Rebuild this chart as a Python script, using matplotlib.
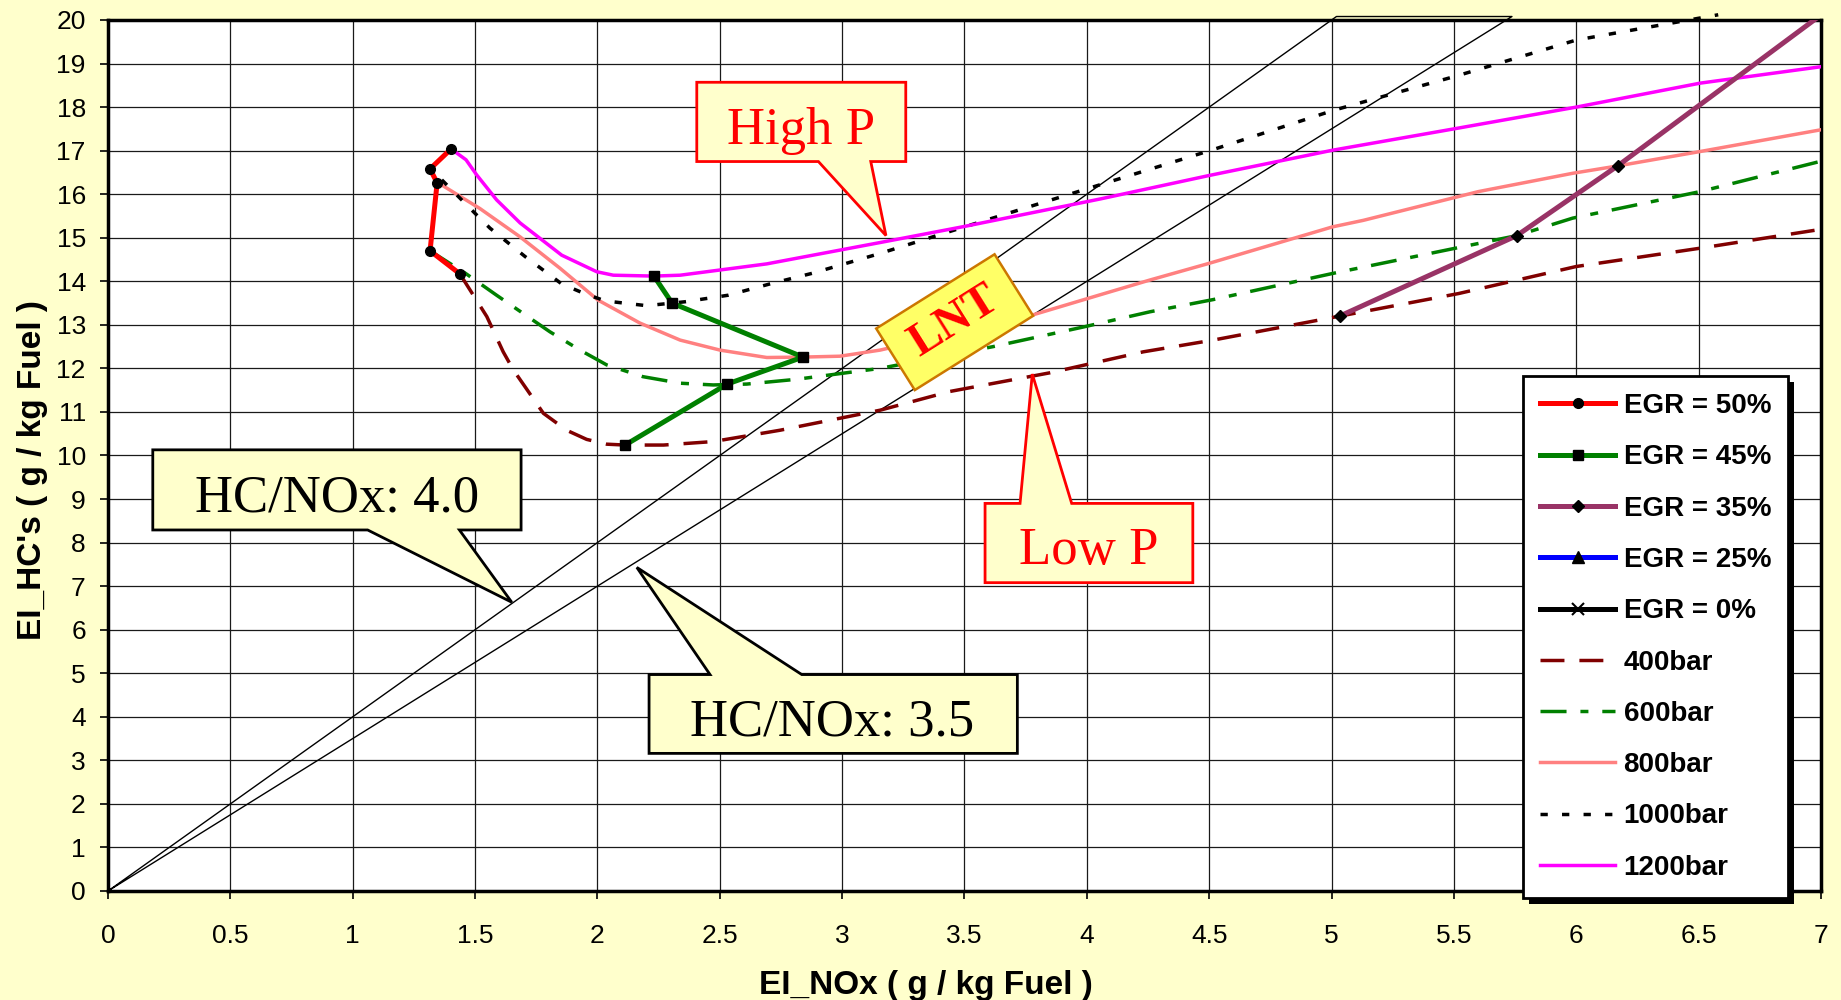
import numpy as np
import matplotlib
matplotlib.use('Agg')
import matplotlib.pyplot as plt
import matplotlib.transforms as mtransforms
from matplotlib.patches import Polygon, Rectangle

plt.rcParams['font.family'] = ['Liberation Sans', 'DejaVu Sans']

# EGR sweeps, one point per rail pressure
egr50_x = [1.402, 1.316, 1.345, 1.316, 1.438]
egr50_y = [17.04, 16.58, 16.26, 14.70, 14.17]
egr45_x = [2.231, 2.305, 2.840, 2.530, 2.113]
egr45_y = [14.12, 13.50, 12.26, 11.64, 10.24]
egr35_x = [5.033, 5.757, 6.169, 7.02]
egr35_y = [13.20, 15.05, 16.65, 20.20]

# rail pressure curves
p400_x = [1.438, 1.493, 1.548, 1.615, 1.657, 1.704, 1.779, 1.874, 1.956, 2.038, 2.113, 2.27,
          2.473, 2.746, 3.155, 3.44, 3.85, 4.23, 4.516, 5.033, 5.52, 6.0, 6.506, 7.03]
p400_y = [14.17, 13.68, 13.19, 12.38, 11.96, 11.58, 10.97, 10.58, 10.37, 10.26, 10.24, 10.24,
          10.32, 10.58, 11.04, 11.47, 11.90, 12.38, 12.65, 13.20, 13.72, 14.34, 14.76, 15.22]
p600_x = [1.316, 1.459, 1.588, 1.806, 1.929, 2.038, 2.186, 2.338, 2.473, 2.61, 2.814, 3.045,
          3.155, 3.617, 3.985, 4.258, 4.516, 5.004, 5.757, 5.985, 6.506, 7.03]
p600_y = [14.70, 14.19, 13.68, 12.84, 12.42, 12.08, 11.81, 11.66, 11.62, 11.64, 11.75, 11.92,
          12.0, 12.50, 12.95, 13.30, 13.58, 14.18, 15.05, 15.45, 16.06, 16.8]
p800_x = [1.345, 1.364, 1.52, 1.684, 1.847, 2.002, 2.174, 2.338, 2.501, 2.692, 2.84, 2.991,
          3.155, 3.78, 4.054, 4.258, 4.498, 5.004, 5.13, 5.6, 5.985, 6.17, 6.506, 7.03]
p800_y = [16.26, 16.21, 15.67, 15.02, 14.30, 13.57, 13.04, 12.65, 12.42, 12.25, 12.26, 12.28,
          12.42, 13.23, 13.69, 14.03, 14.41, 15.25, 15.4, 16.06, 16.48, 16.65, 16.98, 17.51]
p1000_x = [1.364, 1.507, 1.561, 1.704, 1.854, 1.942, 2.031, 2.201, 2.358, 2.534, 2.705, 2.882,
           3.155, 3.5, 4.073, 4.508, 5.01, 5.52, 6.0, 6.58]
p1000_y = [16.33, 15.52, 15.22, 14.57, 13.94, 13.73, 13.55, 13.44, 13.53, 13.68, 13.94, 14.19,
           14.64, 15.25, 16.25, 17.01, 17.93, 18.73, 19.54, 20.12]
p1200_x = [1.402, 1.463, 1.507, 1.588, 1.684, 1.854, 1.997, 2.065, 2.231, 2.338, 2.692, 3.155,
           3.5, 4.054, 4.5, 5.004, 5.5, 6.0, 6.506, 7.03]
p1200_y = [17.04, 16.79, 16.44, 15.87, 15.34, 14.60, 14.22, 14.14, 14.12, 14.14, 14.40, 14.89,
           15.26, 15.89, 16.43, 17.01, 17.50, 18.0, 18.55, 18.95]

hc_ratios = [4.0, 3.5]

BG = '#FFFFCC'

fig = plt.figure(figsize=(18.41, 10.0), dpi=100, facecolor=BG)
ax = fig.add_axes([108 / 1841, 1 - 891 / 1000, (1821 - 108) / 1841, (891 - 20) / 1000])
ax.set_facecolor('white')

# HC/NOx ratio lines from the origin
y_top = 20.08
x_top = [y_top / r for r in hc_ratios]
ax.plot([0, x_top[0], x_top[1], 0], [0, y_top, y_top, 0], color='black', lw=1.0,
        clip_on=False, zorder=2)

lw_p = 2.5
h400, = ax.plot(p400_x, p400_y, color='#800000', lw=lw_p, dashes=(6.9, 4.3), zorder=3, label='400bar')
h600, = ax.plot(p600_x, p600_y, color='#008000', lw=lw_p, dashes=(7.5, 4.0, 2.3, 4.0), zorder=3, label='600bar')
h800, = ax.plot(p800_x, p800_y, color='#FF8080', lw=lw_p, zorder=3, label='800bar')
h1000, = ax.plot(p1000_x, p1000_y, color='black', lw=lw_p, dashes=(2.1, 4.1), zorder=3,
                 clip_on=False, label='1000bar')
h1200, = ax.plot(p1200_x, p1200_y, color='#FF00FF', lw=lw_p, zorder=3, label='1200bar')

lw_e = 3.6
mk = dict(mfc='black', mec='black')
e50, = ax.plot(egr50_x, egr50_y, color='red', lw=lw_e, marker='o', ms=7, zorder=5, label='EGR = 50%', **mk)
e45, = ax.plot(egr45_x, egr45_y, color='#008000', lw=lw_e, marker='s', ms=7, zorder=5, label='EGR = 45%', **mk)
e35, = ax.plot(egr35_x, egr35_y, color='#993366', lw=lw_e, marker='D', ms=6, markevery=[0, 1, 2],
               zorder=5, label='EGR = 35%', **mk)
e25, = ax.plot([], [], color='blue', lw=lw_e, marker='^', ms=8, label='EGR = 25%', **mk)
e0, = ax.plot([], [], color='black', lw=lw_e, marker='x', ms=8, mew=1.5, mec='black', label='EGR = 0%')


def callout(box, base, tip, side, text, tpos, color):
    x0, x1, y0, y1 = box
    b0, b1 = base
    if side == 'bottom':
        verts = [(x0, y1), (x1, y1), (x1, y0), (b1, y0), tip, (b0, y0), (x0, y0)]
    else:
        verts = [(x0, y0), (x1, y0), (x1, y1), (b1, y1), tip, (b0, y1), (x0, y1)]
    ax.add_patch(Polygon(verts, closed=True, fc=BG, ec=color, lw=2, zorder=7, clip_on=False))
    ax.text(tpos[0], tpos[1], text, ha='center', va='baseline', fontsize=38,
            family='Liberation Serif', color=color, zorder=8)


callout((2.406, 3.260, 16.75, 18.57), (2.903, 3.117), (3.179, 15.05), 'bottom', 'High P', (2.833, 17.15), 'red')
callout((3.584, 4.433, 7.08, 8.90), (3.727, 3.938), (3.777, 11.87), 'top', 'Low P', (4.008, 7.51), 'red')
callout((0.183, 1.688, 8.29, 10.13), (1.061, 1.436), (1.650, 6.63), 'bottom', 'HC/NOx: 4.0', (0.935, 8.71), 'black')
callout((2.211, 3.716, 3.16, 4.97), (2.460, 2.835), (2.161, 7.43), 'top', 'HC/NOx: 3.5', (2.96, 3.58), 'black')

# rotated LNT tag
lnt_c = (3.46, 13.06)
ang = 32.1
tr = (mtransforms.Affine2D().scale(1 / 72).rotate_deg(ang) + fig.dpi_scale_trans
      + mtransforms.ScaledTranslation(lnt_c[0], lnt_c[1], ax.transData))
ax.add_patch(Rectangle((-50.3, -26.1), 100.6, 52.3, transform=tr, fc='#FFFF66', ec='#CC7700',
                       lw=1.8, zorder=7, clip_on=False))
ax.text(lnt_c[0], lnt_c[1], 'LNT', rotation=ang, rotation_mode='anchor', ha='center', va='center',
        fontsize=34, fontweight='bold', family='Liberation Serif', color='red', zorder=8)

ax.set_xlim(0, 7)
ax.set_ylim(0, 20)
ax.set_xticks(np.arange(0, 7.01, 0.5))
ax.set_yticks(range(0, 21))
ax.xaxis.set_major_formatter(lambda v, p: f'{v:g}')
ax.tick_params(axis='both', direction='out', length=6, width=1.2, labelsize=19, colors='black')
ax.tick_params(axis='x', pad=18)
ax.tick_params(axis='y', pad=10)
ax.grid(True, color='#1a1a1a', lw=0.9)
ax.set_axisbelow(True)
for s in ax.spines.values():
    s.set_linewidth(2.5)
    s.set_color('black')

fig.text(0.503, 0.006, 'EI_NOx ( g / kg Fuel )', ha='center', va='baseline', fontsize=24, fontweight='bold')
fig.text(0.0175, 0.53, "EI_HC's ( g / kg Fuel )", ha='center', va='center', rotation=90,
         fontsize=24, fontweight='bold')

handles = [e50, e45, e35, e25, e0, h400, h600, h800, h1000, h1200]
leg = ax.legend(handles=handles, loc='upper left', bbox_to_anchor=(1523 / 1841, 1 - 376 / 1000),
                bbox_transform=fig.transFigure, borderaxespad=0, prop={'weight': 'bold', 'size': 20},
                frameon=True, fancybox=False, edgecolor='black', framealpha=1, borderpad=0.62,
                labelspacing=0.91, handlelength=2.7, handletextpad=0.3, numpoints=1)
leg.get_frame().set_linewidth(2)
leg.set_zorder(10)

fig.canvas.draw()
bb = leg.get_window_extent()
ax.add_artist(Rectangle((bb.x0 + 6, bb.y0 - 6), bb.width, bb.height, transform=mtransforms.IdentityTransform(),
                        fc='black', ec='none', zorder=9, clip_on=False))

fig.savefig('out.png', dpi=100, facecolor=BG)
